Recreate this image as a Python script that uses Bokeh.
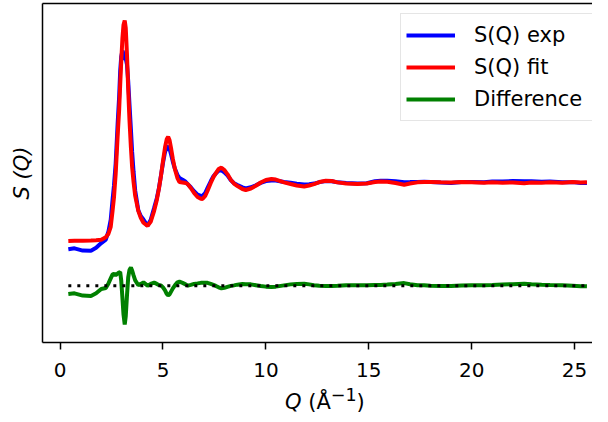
from bokeh.plotting import figure
from bokeh.models import Range1d, FixedTicker, LinearAxis, Legend, LegendItem, Div
from bokeh.layouts import column
from bokeh.embed import file_html
from bokeh.resources import INLINE

# ---- data ----
q = [0.40, 0.70, 1.10, 1.50, 1.75, 2.00, 2.22, 2.35, 2.46, 2.55, 2.62, 2.70, 2.80, 2.87,
     2.92, 2.97, 3.03, 3.08, 3.14, 3.19, 3.25, 3.31, 3.37, 3.44, 3.50, 3.57, 3.65, 3.80,
     3.92, 4.05, 4.25, 4.40, 4.57, 4.70, 4.80, 4.90, 5.00, 5.10, 5.18, 5.25, 5.32, 5.40,
     5.48, 5.58, 5.70, 5.80, 5.95, 6.10, 6.20, 6.35, 6.51, 6.68, 6.84, 6.92, 7.05, 7.16,
     7.32, 7.45, 7.57, 7.70, 7.84, 7.98, 8.13, 8.30, 8.45, 8.62, 8.86, 9.02, 9.27, 9.51,
     9.75, 10.00, 10.27, 10.48, 10.88, 11.20, 11.50, 11.86, 12.10, 12.34, 12.60, 12.91,
     13.20, 13.48, 13.90, 14.45, 14.90, 15.30, 15.58, 15.90, 16.30, 16.72, 17.00, 17.37,
     17.69, 18.00, 18.50, 19.00, 19.50, 20.00, 20.60, 21.00, 21.50, 22.00, 22.55, 22.90,
     23.40, 23.80, 24.40, 24.90, 25.30, 25.60]

s_fit = [-0.005, 0.000, 0.000, 0.003, 0.009, 0.017, 0.060, 0.120, 0.239, 0.513, 0.752, 1.145,
         1.829, 2.256, 2.684, 3.077, 3.487, 3.709, 3.786, 3.658, 3.197, 2.598, 2.085, 1.607,
         1.265, 1.009, 0.769, 0.513, 0.393, 0.308, 0.256, 0.325, 0.513, 0.701, 0.889, 1.111,
         1.368, 1.607, 1.744, 1.786, 1.726, 1.573, 1.402, 1.231, 1.077, 1.009, 1.000, 0.991,
         0.974, 0.906, 0.821, 0.752, 0.721, 0.718, 0.769, 0.855, 0.991, 1.094, 1.162, 1.231,
         1.256, 1.214, 1.145, 1.043, 0.983, 0.940, 0.889, 0.872, 0.897, 0.945, 1.000, 1.043,
         1.060, 1.051, 1.003, 0.974, 0.949, 0.932, 0.949, 0.974, 1.009, 1.031, 1.026, 1.003,
         0.983, 0.974, 0.983, 1.009, 1.017, 1.012, 0.991, 0.962, 0.983, 1.003, 1.009, 1.009,
         1.003, 1.000, 1.009, 1.003, 0.995, 1.005, 0.998, 1.000, 0.986, 1.000, 0.997, 1.005,
         0.998, 1.009, 1.000, 1.003]

s_exp = [-0.149, -0.132, -0.171, -0.175, -0.123, -0.041, 0.019, 0.159, 0.363, 0.706, 0.953,
         1.326, 2.039, 2.483, 2.920, 3.167, 3.270, 3.218, 3.116, 3.133, 3.031, 2.740, 2.355,
         1.919, 1.526, 1.185, 0.859, 0.523, 0.423, 0.364, 0.256, 0.355, 0.564, 0.731, 0.899,
         1.116, 1.339, 1.526, 1.603, 1.620, 1.577, 1.475, 1.355, 1.236, 1.133, 1.077, 1.048,
         1.013, 0.974, 0.919, 0.851, 0.791, 0.769, 0.769, 0.820, 0.903, 1.021, 1.107, 1.158,
         1.202, 1.209, 1.176, 1.124, 1.039, 0.988, 0.957, 0.916, 0.897, 0.919, 0.953, 0.994,
         1.026, 1.036, 1.034, 1.008, 0.996, 0.979, 0.966, 0.971, 0.982, 1.007, 1.024, 1.021,
         1.003, 0.991, 0.982, 0.988, 1.021, 1.030, 1.031, 1.021, 1.006, 1.008, 1.011, 1.014,
         1.009, 0.999, 0.993, 1.010, 1.009, 1.003, 1.017, 1.017, 1.025, 1.020, 1.024, 1.014,
         1.017, 1.003, 1.007, 0.991, 0.991]

difference = [-0.918, -0.906, -0.945, -0.952, -0.906, -0.832, -0.815, -0.735, -0.650, -0.581,
              -0.573, -0.593, -0.564, -0.547, -0.538, -0.684, -0.991, -1.265, -1.444, -1.299,
              -0.940, -0.632, -0.504, -0.462, -0.513, -0.598, -0.684, -0.764, -0.744, -0.718,
              -0.774, -0.744, -0.723, -0.744, -0.764, -0.769, -0.803, -0.855, -0.915, -0.940,
              -0.923, -0.872, -0.821, -0.769, -0.718, -0.706, -0.726, -0.752, -0.774, -0.761,
              -0.744, -0.735, -0.726, -0.723, -0.723, -0.726, -0.744, -0.761, -0.778, -0.803,
              -0.821, -0.812, -0.795, -0.778, -0.769, -0.757, -0.747, -0.749, -0.752, -0.766,
              -0.780, -0.791, -0.798, -0.791, -0.769, -0.752, -0.744, -0.740, -0.752, -0.766,
              -0.776, -0.781, -0.779, -0.774, -0.766, -0.766, -0.769, -0.762, -0.761, -0.755,
              -0.744, -0.730, -0.749, -0.766, -0.769, -0.774, -0.778, -0.781, -0.773, -0.768,
              -0.766, -0.762, -0.755, -0.749, -0.740, -0.750, -0.757, -0.762, -0.769, -0.776,
              -0.783, -0.786]

diff_offset = -0.774
x_ticks = [0, 5, 10, 15, 20, 25]
labels = ["S(Q) exp", "S(Q) fit", "Difference"]

FONT = "DejaVu Sans"

p = figure(width=592, height=385, output_backend="svg", toolbar_location=None,
           x_range=Range1d(-0.855, 25.87), y_range=Range1d(-1.752, 4.08),
           min_border_left=42, min_border_right=0, min_border_top=3, min_border_bottom=43,
           background_fill_color="white", border_fill_color="white")
p.outline_line_color = None
p.xgrid.visible = False
p.ygrid.visible = False

r_exp = p.line(q, s_exp, line_color="#0000ff", line_width=4)
r_fit = p.line(q, s_fit, line_color="#ff0000", line_width=4)
r_diff = p.line(q, difference, line_color="#008000", line_width=4)
p.line([q[0], q[-1]], [diff_offset, diff_offset], line_color="black", line_width=3,
       line_dash="3 6")

# x axis
xa = p.xaxis[0]
xa.ticker = FixedTicker(ticks=x_ticks)
xa.axis_line_width = 1.5
xa.axis_line_color = "black"
xa.major_tick_line_width = 1.5
xa.major_tick_line_color = "black"
xa.major_tick_out = 7
xa.major_tick_in = 0
xa.minor_tick_line_color = None
xa.major_label_text_font = FONT
xa.major_label_text_font_size = "20px"
xa.major_label_text_color = "black"
xa.major_label_standoff = 13

# y axis
ya = p.yaxis[0]
ya.ticker = FixedTicker(ticks=[])
ya.axis_line_width = 1.5
ya.axis_line_color = "black"
ya.minor_tick_line_color = None
ya.major_tick_line_color = None
ya.axis_label = "S (Q)"
ya.axis_label_text_font = FONT
ya.axis_label_text_font_style = "italic"
ya.axis_label_text_font_size = "21px"
ya.axis_label_text_color = "black"
ya.axis_label_standoff = 9

# top border
top = LinearAxis(ticker=FixedTicker(ticks=[]), major_tick_out=0, major_tick_in=0,
                 minor_tick_line_color=None, axis_line_width=1.5, axis_line_color="black",
                 major_label_text_font_size="0px")
p.add_layout(top, "above")

legend = Legend(items=[LegendItem(label=labels[0], renderers=[r_exp]),
                       LegendItem(label=labels[1], renderers=[r_fit]),
                       LegendItem(label=labels[2], renderers=[r_diff])],
                location=(358, 221))
legend.label_text_font = FONT
legend.label_text_font_size = "21px"
legend.label_text_color = "black"
legend.glyph_width = 49
legend.glyph_height = 32
legend.label_height = 32
legend.label_width = 113
legend.label_standoff = 19
legend.padding = 5
legend.spacing = 0
legend.margin = 0
legend.border_line_color = "#cccccc"
legend.border_line_width = 1.5
legend.background_fill_alpha = 0.8
p.add_layout(legend)

# x-axis title: italic Q with upright unit
xlabel = Div(text='<i>Q</i> (Å<sup>−1</sup>)', width=592, height=21, margin=0,
             styles={"font-family": FONT, "font-size": "21px", "color": "black",
                     "line-height": "21px", "padding-left": "285px",
                     "box-sizing": "border-box", "white-space": "nowrap"})

layout = column(p, xlabel, spacing=0)
open("out.html", "w").write(file_html(layout, INLINE))
